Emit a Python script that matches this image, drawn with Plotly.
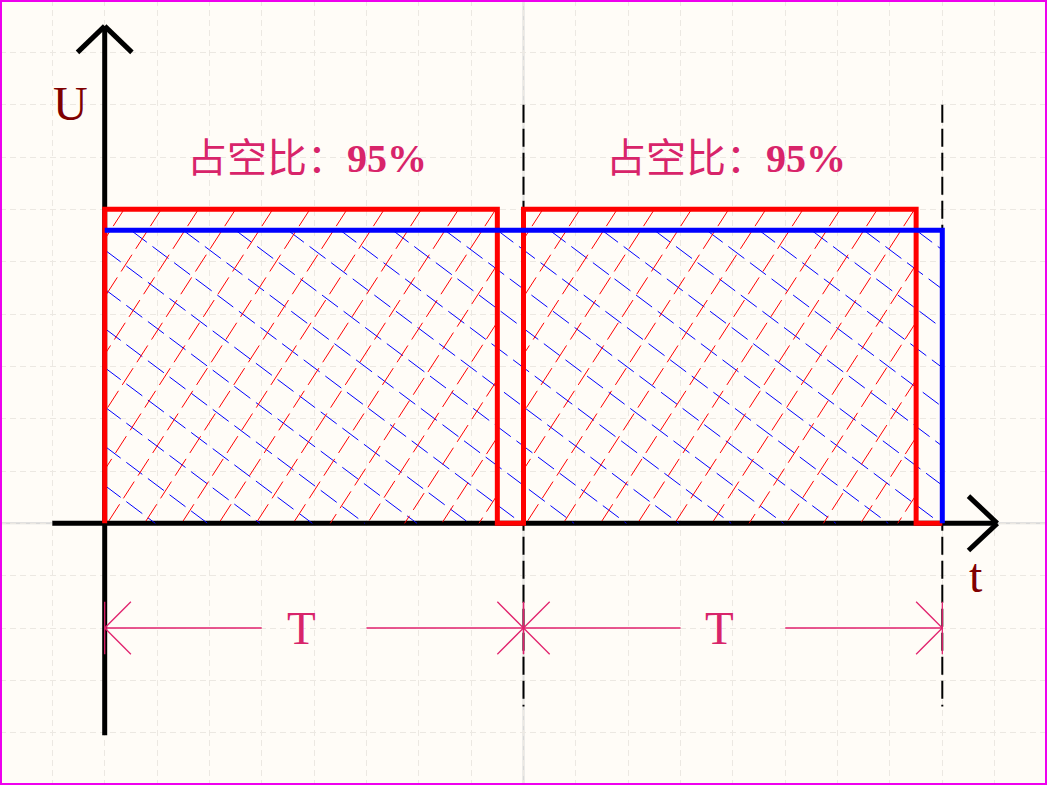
import plotly.graph_objects as go

# ---------------- data (grid units) ----------------
pulse_starts = [0.0, 8.0]          # rising edges of the red PWM wave
pulse_ends = [7.5, 15.5]           # falling edges (95% duty illustration)
period_ends = [8.0, 16.0]          # end of each period T
red_level = 6.0                    # PWM high level
blue_level = 5.6                   # average (DC) level
duty_labels = ["占空比：", "95%"]
period_labels = ["T", "T"]
axis_names = ["U", "t"]

# ---------------- styles ----------------
BG = "#FFFCF7"
GRID = "#ECE8E2"
RED = "#FF0000"
BLUE = "#0000FF"
PINK = "#E0206C"
TXT_PINK = "#D8246A"
DARK_RED = "#800000"

X_RANGE = [-2, 18]
Y_RANGE = [-5, 10]
DIM_Y = -2.0

# waveform points built from the pulse lists
red_x, red_y = [], []
for s, e, p in zip(pulse_starts, pulse_ends, period_ends):
    red_x += [s, s, e, e, p]
    red_y += [0, red_level, red_level, 0, 0]
blue_x = [pulse_starts[0], period_ends[-1], period_ends[-1]]
blue_y = [blue_level, blue_level, 0]


def hatch(x1, x2, y1, y2, slope, y_ref, c0, step):
    """Clip parallel lines y = y_ref + slope*(x-c) to rectangle."""
    xs, ys = [], []
    for k in range(-40, 41):
        c = c0 + k * step
        xa = c + (y1 - y_ref) / slope
        xb = c + (y2 - y_ref) / slope
        lo, hi = max(min(xa, xb), x1), min(max(xa, xb), x2)
        if hi - lo < 1e-6:
            continue
        ya = y_ref + slope * (lo - c)
        yb = y_ref + slope * (hi - c)
        if ya > yb:
            xs += [lo, hi, None]; ys += [ya, yb, None]
        else:
            xs += [hi, lo, None]; ys += [yb, ya, None]
    return xs, ys


fig = go.Figure()

# blue hatch (down-right)
bx, by = hatch(pulse_starts[0], period_ends[-1], 0, blue_level, -0.75, blue_level, 0.5, 1.0)
fig.add_trace(go.Scatter(x=bx, y=by, mode="lines", hoverinfo="skip",
                         line=dict(color=BLUE, width=1, dash="20px,7px")))
# red hatch (up-right)
for s, e in zip(pulse_starts, pulse_ends):
    rx, ry = hatch(s, e, 0, red_level, 1.55, red_level, s + 0.37, 0.71)
    fig.add_trace(go.Scatter(x=rx, y=ry, mode="lines", hoverinfo="skip",
                             line=dict(color=RED, width=1, dash="20px,7px")))

fig.add_trace(go.Scatter(x=red_x, y=red_y, mode="lines", hoverinfo="skip",
                         line=dict(color=RED, width=5)))
fig.add_trace(go.Scatter(x=blue_x, y=blue_y, mode="lines", hoverinfo="skip",
                         line=dict(color=BLUE, width=5)))

LAYER = "between"
shapes = []
# solid light centre lines
shapes.append(dict(type="line", xref="x", yref="paper", x0=period_ends[0], x1=period_ends[0],
                   y0=0, y1=1, line=dict(color="#D9D9D9", width=2), layer=LAYER))
shapes.append(dict(type="line", xref="paper", yref="y", x0=0, x1=1, y0=0, y1=0,
                   line=dict(color="#D9D9D9", width=2), layer=LAYER))
# axes
ax_line = dict(color="black", width=5)
shapes += [
    dict(type="line", x0=0, x1=0, y0=-4.05, y1=9.5, line=ax_line, layer=LAYER),
    dict(type="line", x0=0, x1=-0.52, y0=9.5, y1=9.0, line=ax_line, layer=LAYER),
    dict(type="line", x0=0, x1=0.52, y0=9.5, y1=9.0, line=ax_line, layer=LAYER),
    dict(type="line", x0=-1.0, x1=17.05, y0=0, y1=0, line=ax_line, layer=LAYER),
    dict(type="line", x0=17.05, x1=16.5, y0=0, y1=0.52, line=ax_line, layer=LAYER),
    dict(type="line", x0=17.05, x1=16.5, y0=0, y1=-0.52, line=ax_line, layer=LAYER),
]
# dashed period boundaries
for p in period_ends:
    shapes.append(dict(type="line", x0=p, x1=p, y0=8.0, y1=-3.5,
                       line=dict(color="black", width=2, dash="18px,6px"), layer=LAYER))
# dimension lines
dim = dict(color=PINK, width=1.3)
for s, p in zip(pulse_starts, period_ends):
    shapes += [
        dict(type="line", x0=s, x1=s + 3, y0=DIM_Y, y1=DIM_Y, line=dim),
        dict(type="line", x0=s + 5, x1=p, y0=DIM_Y, y1=DIM_Y, line=dim),
        dict(type="line", x0=s, x1=s + 0.5, y0=DIM_Y, y1=DIM_Y + 0.5, line=dim),
        dict(type="line", x0=s, x1=s + 0.5, y0=DIM_Y, y1=DIM_Y - 0.5, line=dim),
        dict(type="line", x0=p, x1=p - 0.5, y0=DIM_Y, y1=DIM_Y + 0.5, line=dim),
        dict(type="line", x0=p, x1=p - 0.5, y0=DIM_Y, y1=DIM_Y - 0.5, line=dim),
        dict(type="line", x0=s, x1=s, y0=DIM_Y + 0.5, y1=DIM_Y - 0.5, line=dim),
        dict(type="line", x0=p, x1=p, y0=DIM_Y + 0.5, y1=DIM_Y - 0.5, line=dim),
    ]
# page border
shapes.append(dict(type="rect", xref="paper", yref="paper", x0=0, x1=1, y0=0, y1=1,
                   line=dict(color="#EE00EE", width=4)))

annotations = []
duty_text = ("<span style=\"font-family:'Noto Sans CJK SC'\">" + duty_labels[0] +
             "</span><b>" + duty_labels[1] + "</b>")
for s in pulse_starts:
    annotations.append(dict(x=s + 3.87, y=7.03, text=duty_text, showarrow=False,
                            xanchor="center", yanchor="middle",
                            font=dict(family="Liberation Serif", size=40, color=TXT_PINK)))
for s, lab in zip(pulse_starts, period_labels):
    annotations.append(dict(x=s + 3.75, y=DIM_Y, text=lab, showarrow=False,
                            xanchor="center", yanchor="middle",
                            font=dict(family="Liberation Serif", size=47, color=TXT_PINK)))
annotations.append(dict(x=-0.66, y=8.02, text=axis_names[0], showarrow=False,
                        xanchor="center", yanchor="middle",
                        font=dict(family="Liberation Serif", size=48, color=DARK_RED)))
annotations.append(dict(x=16.64, y=-1.0, text=axis_names[1], showarrow=False,
                        xanchor="center", yanchor="middle",
                        font=dict(family="Liberation Serif", size=48, color=DARK_RED)))

grid_ax = dict(showgrid=True, gridcolor=GRID, gridwidth=1, griddash="6px,4px", dtick=1,
               tick0=0, zeroline=False, showline=False, showticklabels=False, ticks="",
               fixedrange=True)
fig.update_layout(
    width=1047, height=785, autosize=False,
    margin=dict(l=0, r=0, t=0, b=0, pad=0),
    paper_bgcolor=BG, plot_bgcolor=BG, showlegend=False,
    xaxis=dict(range=X_RANGE, **grid_ax),
    yaxis=dict(range=Y_RANGE, **grid_ax),
    shapes=shapes, annotations=annotations,
)

fig.write_html("out.html", config={"displayModeBar": False, "staticPlot": True},
               post_script="document.body.style.margin='0';document.body.style.overflow='hidden';")
